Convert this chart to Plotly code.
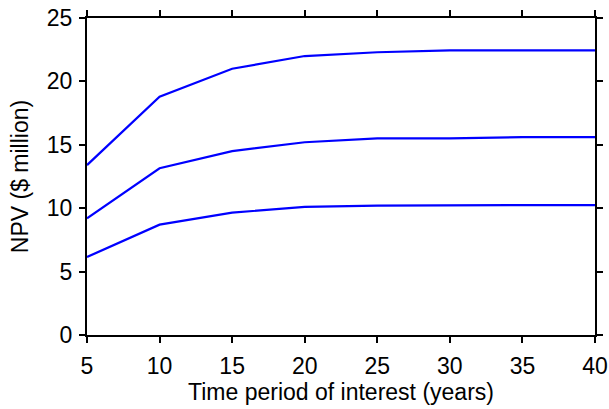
import plotly.graph_objects as go

# Time horizon (years) and NPV curves ($ million) for three scenarios
years = [5, 10, 15, 20, 25, 30, 35, 40]
npv_high = [13.4, 18.8, 21.0, 22.0, 22.3, 22.45, 22.45, 22.45]
npv_mid = [9.2, 13.15, 14.5, 15.2, 15.5, 15.5, 15.6, 15.6]
npv_low = [6.15, 8.7, 9.65, 10.1, 10.2, 10.25, 10.25, 10.25]

x_ticks = [5, 10, 15, 20, 25, 30, 35, 40]
y_ticks = [0, 5, 10, 15, 20, 25]

FONT = "Liberation Sans, Arial, sans-serif"

fig = go.Figure()
for series in (npv_high, npv_mid, npv_low):
    fig.add_trace(go.Scatter(
        x=years, y=series, mode="lines",
        line=dict(color="#0000FF", width=2.2),
        showlegend=False,
    ))

axis_common = dict(
    showline=True, linecolor="black", linewidth=2,
    mirror="ticks", ticks="outside", ticklen=6, tickwidth=2,
    tickcolor="black", showgrid=False, zeroline=False,
    automargin=False,
    tickfont=dict(family=FONT, size=23, color="black"),
)

fig.update_layout(
    width=609, height=409,
    margin=dict(l=87, r=14, t=18, b=74, autoexpand=False),
    paper_bgcolor="white", plot_bgcolor="white",
    font=dict(family=FONT, size=22, color="black"),
    xaxis=dict(
        range=[5, 40], tickvals=x_ticks, ticklabelstandoff=3,
        title=dict(text="Time period of interest (years)", standoff=6,
                   font=dict(family=FONT, size=23)),
        **axis_common,
    ),
    yaxis=dict(
        range=[0, 25], tickvals=y_ticks, ticklabelstandoff=2,
        title=dict(text="NPV ($ million)", standoff=12,
                   font=dict(family=FONT, size=23)),
        **axis_common,
    ),
)

fig.write_html("out.html")
